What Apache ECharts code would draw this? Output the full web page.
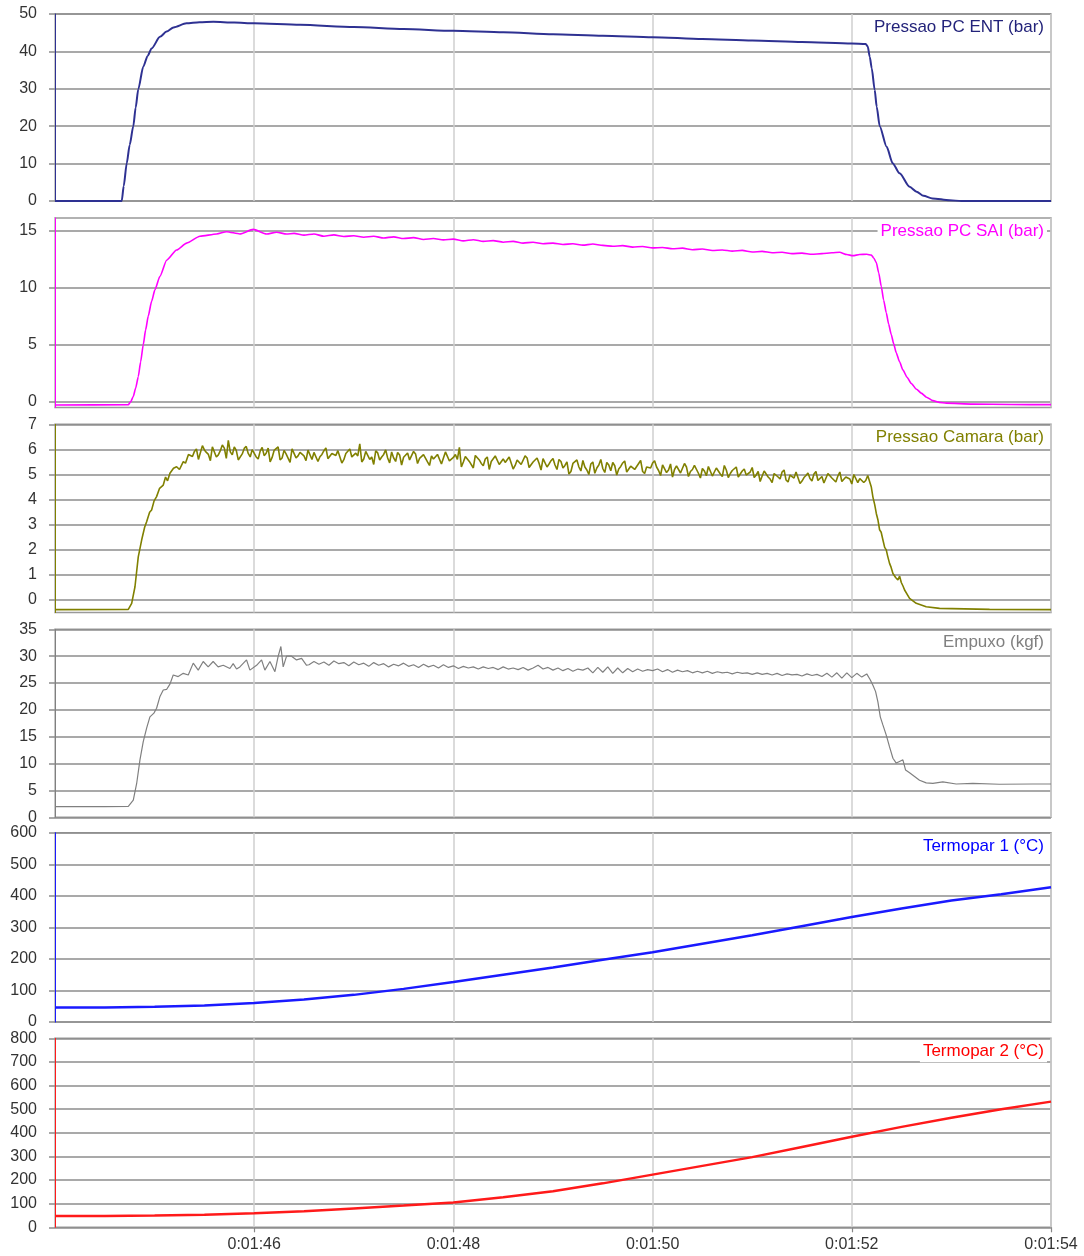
<!DOCTYPE html>
<html><head><meta charset="utf-8">
<script src="https://cdn.jsdelivr.net/npm/echarts@6/dist/echarts.min.js"></script>
<style>html,body{margin:0;padding:0;background:#fff}#c{width:1084px;height:1256px}</style>
</head><body><div id="c"></div>
<script>
// ---------- DATA (time in seconds, 104 = 0:01:44) ----------
const xTicks = [104, 106, 108, 110, 112, 114];
const titles = ['Pressao PC ENT (bar)', 'Pressao PC SAI (bar)', 'Pressao Camara (bar)', 'Empuxo (kgf)', 'Termopar 1 (°C)', 'Termopar 2 (°C)'];

const yTicks1 = [0, 10, 20, 30, 40, 50];
const yTicks2 = [0, 5, 10, 15];
const yTicks3 = [0, 1, 2, 3, 4, 5, 6, 7];
const yTicks4 = [0, 5, 10, 15, 20, 25, 30, 35];
const yTicks5 = [0, 100, 200, 300, 400, 500, 600];
const yTicks6 = [0, 100, 200, 300, 400, 500, 600, 700, 800];

// Pressao PC ENT
const entPairs = [[104.0,0],[104.67,0],[104.69,4],[104.72,10.1],[104.75,15],[104.786,20],[104.81,25],[104.836,29.9],
 [104.886,35.9],[104.93,38.8],[104.97,40.8],[105.054,43.9],[105.12,45.3],[105.19,46.4],[105.32,47.5],[105.45,47.8],
 [105.59,47.9],[105.8,47.7],[106.0,47.5],[106.46,47.1],[107.0,46.5],[107.5,46.0],[108.0,45.5],[108.5,45.1],[109.0,44.6],
 [109.5,44.2],[110.0,43.8],[110.5,43.3],[111.0,42.9],[111.5,42.5],[112.0,42.1],[112.14,42.0],[112.16,41.3],[112.18,38.6],
 [112.2,35.5],[112.23,29.7],[112.25,25.2],[112.28,20],[112.35,14.5],[112.41,10.1],[112.48,7.4],[112.58,3.8],[112.65,2.5],
 [112.72,1.4],[112.81,0.7],[112.98,0.2],[113.1,0],[114.0,0]];

// Pressao PC SAI
const saiRise = [[104.0,-0.28],[104.736,-0.26],[104.76,0.0],[104.786,0.47],[104.81,1.2],[104.836,2.2],[104.86,3.5],[104.886,5.0],
 [104.91,6.3],[104.936,7.5],[104.97,8.8],[105.003,9.8],[105.054,11.0],[105.121,12.4],[105.221,13.3],[105.322,13.9],
 [105.455,14.5],[105.623,14.7],[105.723,14.9],[105.856,14.7],[105.99,15.1],[106.124,14.7],[106.225,14.85],[106.325,14.7]];
const saiPlateauStart = 106.4, saiPlateauStep = 0.1;
const saiPlateau = [14.75,14.6,14.7,14.5,14.62,14.48,
 14.55,14.42,14.5,14.35,14.45,14.3,14.38,14.22,14.3,14.18,
 14.25,14.1,14.2,14.05,14.12,13.98,14.05,13.9,13.98,13.85,
 13.9,13.78,13.85,13.72,13.82,13.7,13.62,13.68,13.55,13.6,
 13.48,13.52,13.4,13.46,13.32,13.38,13.25,13.3,13.2,13.26,
 13.12,13.18,13.05,13.1,12.98,13.02,12.92,12.98,13.05];
const saiDrop = [[111.877,13.1],[111.95,12.9],[112.011,12.8],[112.078,12.9],[112.15,12.92],[112.196,12.85],[112.22,12.6],
 [112.246,12.2],[112.27,11.3],[112.296,10.1],[112.32,8.9],[112.346,7.8],[112.37,6.8],[112.396,5.9],[112.42,5.1],
 [112.446,4.3],[112.48,3.5],[112.512,2.8],[112.555,2.15],[112.597,1.6],[112.65,1.1],[112.697,0.76],[112.75,0.4],
 [112.814,0.1],[112.88,-0.05],[112.948,-0.12],[113.215,-0.2],[113.6,-0.24],[114.0,-0.25]];

// Pressao Camara
const camRise = [[104.0,-0.38],[104.736,-0.37],[104.77,-0.13],[104.803,0.53],[104.836,1.72],[104.87,2.39],[104.9,2.9],
 [104.92,3.12],[104.95,3.5],[104.97,3.59],[104.995,3.95],[105.02,4.12],[105.05,4.45],[105.087,4.58],[105.11,4.9],
 [105.13,4.75],[105.154,5.05],[105.19,5.25],[105.221,5.31],[105.25,5.2],[105.288,5.51],[105.31,5.45],[105.34,5.8]];
const camPlateauStart = 105.38, camPlateauStep = 0.04;
const camPlateau = [5.72,6.02,5.66,5.98,5.80,6.10,5.70,5.95,6.05,6.36,5.78,5.96,5.62,6.04,5.84,5.99,
 5.70,5.93,5.75,6.05,5.68,5.90,5.58,5.96,5.80,6.02,5.66,5.88,5.74,5.97,5.60,5.86,5.71,5.95,5.63,5.84,5.76,5.98,5.59,5.82,5.70,
 5.85,6.22,5.62,5.88,5.70,5.94,5.58,5.80,5.66,5.90,5.52,5.78,5.69,5.86,5.55,5.82,5.64,5.79,5.50,5.74,5.61,5.85,5.48,5.72,5.58,
 5.80,6.08,5.50,5.72,5.45,5.76,5.58,5.35,5.70,5.52,5.74,5.40,5.62,5.47,5.68,5.36,5.60,5.44,5.66,5.32,5.58,5.45,5.63,5.30,5.55,
 5.38,5.60,5.26,5.50,5.12,5.45,5.30,5.56,5.18,5.42,5.05,5.38,5.24,5.48,5.15,5.35,5.22,5.46,5.10,5.33,5.20,5.44,5.12,5.30,5.26,
 5.55,5.16,5.38,5.08,5.42,5.20,5.34,5.02,5.30,5.12,5.36,5.05,5.24,4.95,5.28,5.10,5.20,4.92,5.18,5.04,5.22,4.90,5.14,4.98,5.10,
 4.88,5.12,4.94,5.08,4.82,5.04,4.90,5.10,4.78,4.98,4.86,5.06,4.74,4.96,4.84,5.02,4.76,4.92,4.70,4.98,4.80,4.94,4.72,4.90,4.82,5.00,4.68,4.88,4.76,4.92];
// samples halfway between the ones above (start + step/2)
const camPlateauMid = [5.92,5.60,6.15,5.88,5.55,6.05,5.78,6.18,5.64,5.90,6.10,5.58,5.82,6.12,5.70,5.95,
 5.62,6.08,5.85,5.50,5.96,6.10,5.66,5.82,5.48,6.04,5.74,5.92,5.55,6.00,5.88,5.52,5.80,6.06,5.60,5.78,5.95,5.46,5.84,6.02,5.64,
 5.74,5.50,5.92,5.60,5.40,5.86,5.70,5.98,5.46,5.66,5.88,5.38,5.76,5.58,5.92,5.44,5.70,5.84,5.36,5.62,5.80,5.42,5.90,5.54,5.68,
 5.60,5.30,5.72,5.52,5.26,5.80,5.44,5.62,5.20,5.54,5.76,5.34,5.48,5.70,5.22,5.58,5.40,5.74,5.28,5.50,5.66,5.18,5.56,5.42,5.64,
 5.20,5.52,5.36,5.02,5.44,5.58,5.14,5.30,5.00,5.50,5.26,5.60,5.08,5.38,5.48,4.98,5.32,5.54,5.12,5.40,5.22,5.56,5.04,5.34,5.46,
 5.30,4.96,5.40,5.18,4.90,5.34,5.06,5.44,4.92,5.20,5.38,4.86,5.14,5.32,4.94,5.26,5.02,5.36,4.88,5.16,5.30,4.84,5.22,5.04,5.28,
 4.98,4.72,5.14,4.90,4.68,5.08,4.82,5.18,4.70,4.96,5.10,4.64,4.88,5.06,4.74,5.12,4.80,4.66,5.04,4.86,4.70,5.10,4.76,4.94,4.62,5.02,4.84,4.68,4.96];
const camDrop = [[112.196,4.5],[112.212,4.1],[112.23,3.8],[112.246,3.45],[112.262,3.2],[112.279,2.8],[112.295,2.7],
 [112.312,2.4],[112.33,2.1],[112.346,2.0],[112.36,1.75],[112.379,1.46],[112.395,1.3],[112.413,1.06],[112.44,0.9],
 [112.463,0.8],[112.48,0.95],[112.497,0.7],[112.515,0.55],[112.53,0.4],[112.58,0.07],[112.647,-0.13],[112.747,-0.27],
 [112.881,-0.33],[113.383,-0.37],[114.0,-0.38]];

// Empuxo
const empRise = [[104.0,2.0],[104.5,2.0],[104.736,2.05],[104.753,2.1],[104.786,3.2],[104.82,6.3],[104.853,10.7],[104.886,14.1],
 [104.92,16.6],[104.953,18.7],[104.993,19.4],[105.02,20.3],[105.054,22.5],[105.087,23.7],[105.12,23.8],[105.154,24.8],
 [105.187,26.5],[105.237,26.2],[105.288,26.8],[105.338,26.5],[105.388,28.7],[105.438,27.4],[105.488,29.0],[105.538,28.0],
 [105.588,29.0],[105.638,28.0],[105.689,28.3],[105.756,27.7],[105.789,28.6],[105.823,27.6],[105.856,28.0],[105.923,29.3],
 [105.957,27.4],[106.024,28.3],[106.074,29.3],[106.107,27.4],[106.158,29.0],[106.208,27.1],[106.241,30.0],[106.268,31.8],
 [106.291,28.0],[106.325,30.0],[106.375,30.0],[106.425,29.3],[106.476,29.6],[106.526,28.3]];
const empPlateauStart = 106.55, empPlateauStep = 0.05;
const empPlateau = [28.4,29.0,28.5,28.9,28.3,29.1,28.6,28.8,28.2,28.9,
 28.4,28.7,28.1,28.8,28.3,28.6,28.0,28.5,28.2,28.7,28.1,28.4,27.9,28.5,28.0,28.3,27.8,28.4,27.9,28.2,
 27.7,28.1,27.8,28.0,27.6,28.0,27.7,27.9,27.5,28.0,27.6,27.8,27.5,27.9,27.4,27.8,28.3,27.6,27.9,27.4,
 27.8,27.3,27.7,27.2,27.6,27.4,27.8,26.9,27.9,27.0,28.0,26.8,27.8,26.9,27.7,27.1,27.6,27.2,27.5,27.3,
 27.6,27.1,27.5,27.0,27.4,27.1,27.3,26.9,27.2,26.9,27.2,26.8,27.1,26.9,27.0,26.7,27.0,26.8,26.9,26.6,
 26.9,26.6,26.8,26.5,26.8,26.4,26.7,26.5,26.6,26.3,26.7,26.4,26.6,26.2,26.8,26.1,26.9,25.9,26.9,26.0,26.8,26.1,26.7];
const empDrop = [[112.185,25.6],[112.212,24.6],[112.239,23.4],[112.262,21.5],[112.286,18.7],[112.312,17.2],[112.346,15.3],
 [112.379,13.1],[112.413,11.0],[112.446,10.1],[112.479,10.4],[112.513,10.7],[112.54,8.8],[112.58,8.3],[112.63,7.6],
 [112.68,6.9],[112.747,6.4],[112.814,6.3],[112.914,6.6],[113.048,6.2],[113.215,6.3],[113.482,6.15],[113.817,6.2],[114.0,6.2]];

// Termopar 1
const tp1Pairs = [[104.0,46],[104.5,46],[105.0,48],[105.5,52],[106.0,60],[106.5,71],[107.0,86],[107.5,105],[108.0,127],
 [108.5,150],[109.0,173],[109.5,197],[110.0,221],[110.5,248],[111.0,275],[111.4,298],[112.0,333],[112.5,360],
 [113.0,385],[113.5,405],[114.0,427]];

// Termopar 2
const tp2Pairs = [[104.0,48],[104.5,48],[105.0,50],[105.5,53],[106.0,59],[106.5,68],[107.0,80],[107.5,92],[108.0,105],
 [108.5,127],[109.0,153],[109.5,186],[110.0,223],[110.5,260],[111.0,297],[111.5,340],[112.0,383],[112.5,425],
 [113.0,464],[113.5,500],[114.0,532]];

// ---------- BUILD ----------
function sampled(start, step, vals) { return vals.map((v, i) => [start + i * step, v]); }
const camPlateauAll = sampled(camPlateauStart, camPlateauStep, camPlateau)
  .concat(sampled(camPlateauStart + camPlateauStep / 2, camPlateauStep, camPlateauMid))
  .sort((a, b) => a[0] - b[0]);
const seriesData = [
  entPairs,
  saiRise.concat(sampled(saiPlateauStart, saiPlateauStep, saiPlateau), saiDrop),
  camRise.concat(camPlateauAll, camDrop),
  empRise.concat(sampled(empPlateauStart, empPlateauStep, empPlateau), empDrop),
  tp1Pairs,
  tp2Pairs
];
const yTicks = [yTicks1, yTicks2, yTicks3, yTicks4, yTicks5, yTicks6];

// layout / style (kept separate from data)
const layout = [
  {top: 14, height: 187, min: 0, max: 50},
  {top: 218, height: 189.5, min: -0.5, max: 16.1},
  {top: 424.3, height: 188.3, min: -0.5, max: 7},
  {top: 629.3, height: 188, min: 0, max: 35},
  {top: 832.7, height: 189.3, min: 0, max: 600},
  {top: 1038.3, height: 189, min: 0, max: 800}
];
const lineColors = ['#2e3192', '#ff00ff', '#808000', '#808080', '#1a1aff', '#ff1a1a'];
const titleColors = ['#23237a', '#ff00ff', '#808000', '#808080', '#0000ff', '#ff0000'];
const lineWidths = [2, 1.6, 1.6, 1.2, 2.5, 2.5];
const smoothing = [0.25, 0.2, false, false, false, false];
const FONT = '"Liberation Sans", Arial, sans-serif';

function fmtTime(v) {
  const s = Math.round(v), m = Math.floor(s / 60), ss = s % 60;
  return '0:' + String(m).padStart(2, '0') + ':' + String(ss).padStart(2, '0');
}

const grids = [], xAxes = [], yAxes = [], series = [], title = [];
layout.forEach((L, i) => {
  const last = i === layout.length - 1;
  grids.push({left: 55, width: 996, top: L.top, height: L.height, show: true,
    backgroundColor: '#fff', borderColor: '#999', borderWidth: 1.5});
  xAxes.push({type: 'value', gridIndex: i, min: 104, max: 114, interval: 2,
    axisLine: {show: false},
    axisTick: {show: last, length: 5, lineStyle: {color: '#888', width: 1.2}},
    axisLabel: {show: last, formatter: fmtTime, showMinLabel: false, showMaxLabel: true,
      color: '#333', fontSize: 16, fontFamily: FONT, margin: 9},
    splitLine: {show: true, lineStyle: {color: '#cfcfcf', width: 1.5}}});
  yAxes.push({type: 'value', gridIndex: i, min: L.min, max: L.max,
    axisLine: {show: true, lineStyle: {color: lineColors[i], width: 1}},
    axisTick: {show: true, inside: false, length: 6, customValues: yTicks[i], lineStyle: {color: '#8c8c8c', width: 1.5}},
    axisLabel: {show: true, customValues: yTicks[i], color: '#333', fontSize: 16, fontFamily: FONT, margin: 18,
      showMinLabel: true, showMaxLabel: true, hideOverlap: false},
    splitLine: {show: true, lineStyle: {color: '#8c8c8c', width: 1.5}}});
  const s = {type: 'line', xAxisIndex: i, yAxisIndex: i, data: seriesData[i], showSymbol: false,
    symbol: 'none', smooth: smoothing[i], animation: false, clip: true, sampling: undefined,
    lineStyle: {color: lineColors[i], width: lineWidths[i]}};
  if (smoothing[i]) s.smoothMonotone = 'x';
  series.push(s);
  title.push({text: titles[i], right: 37, top: L.top + 3, padding: [1, 3],
    backgroundColor: '#fff',
    textStyle: {color: titleColors[i], fontSize: 17, fontWeight: 'normal', fontFamily: FONT, lineHeight: 19}});
});

const chart = echarts.init(document.getElementById('c'), null, {renderer: 'canvas'});
chart.setOption({animation: false, backgroundColor: '#fff', title, grid: grids, xAxis: xAxes, yAxis: yAxes, series});
</script></body></html>
